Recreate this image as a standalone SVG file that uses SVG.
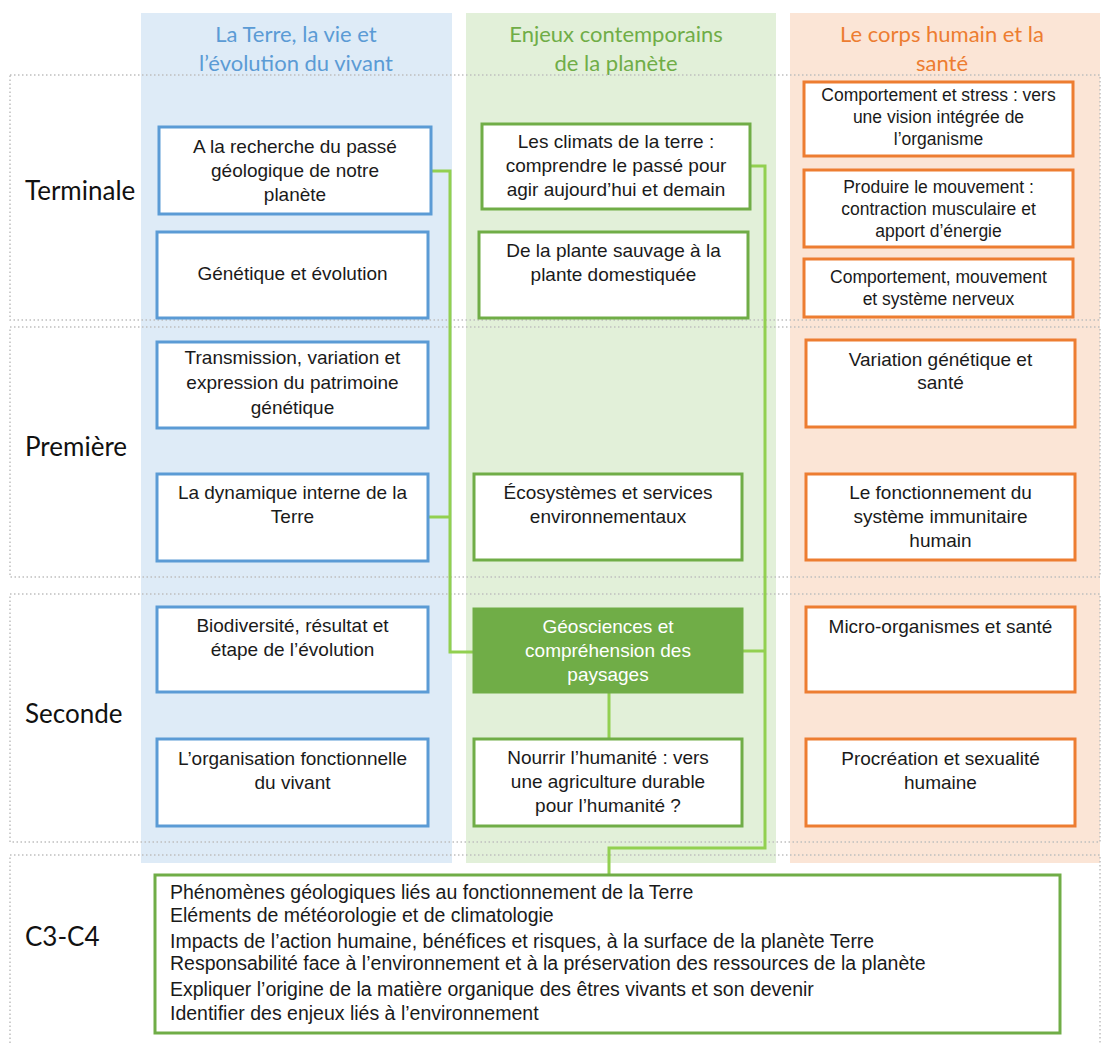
<svg xmlns="http://www.w3.org/2000/svg" width="1103" height="1044" viewBox="0 0 1103 1044">
<style>
.bgB{fill:#deebf7}.bgG{fill:#e2f0d9}.bgO{fill:#fbe5d6}
.row{fill:none;stroke:#bfbfbf;stroke-width:1.5;stroke-dasharray:1.5 2.5}
.hd{font-family:Lato,"Open Sans",sans-serif;font-size:22px;text-anchor:middle}
.rl{font-family:Lato,"Open Sans",sans-serif;font-size:26px;fill:#111}
.nb{fill:#fff;stroke:#5b9bd5;stroke-width:3}
.ng{fill:#fff;stroke:#70ad47;stroke-width:3}
.no{fill:#fff;stroke:#ed7d31;stroke-width:3}
.t{font-family:"Liberation Sans",Arial,sans-serif;font-size:19px;fill:#1a1a1a;text-anchor:middle}
.ts{font-size:17.5px}
.tl{font-family:"Liberation Sans",Arial,sans-serif;font-size:19.5px;fill:#1a1a1a}
.con{fill:none;stroke:#92d050;stroke-width:3}
</style>
<rect width="1103" height="1044" fill="#fff"/>
<g id="columns">
<rect class="bgB" x="141" y="13" width="311" height="850"/>
<rect class="bgG" x="466" y="13" width="310" height="850"/>
<rect class="bgO" x="790" y="13" width="310" height="850"/>
<text class="hd" x="296" y="42" fill="#5b9bd5">La Terre, la vie et</text>
<text class="hd" x="296" y="71" fill="#5b9bd5">l’évolution du vivant</text>
<text class="hd" x="616" y="42" fill="#70ad47">Enjeux contemporains</text>
<text class="hd" x="616" y="71" fill="#70ad47">de la planète</text>
<text class="hd" x="942" y="42" fill="#ed7d31">Le corps humain et la</text>
<text class="hd" x="942" y="71" fill="#ed7d31">santé</text>
</g>
<g id="rows">
<rect class="row" x="10" y="75" width="1090" height="245"/>
<rect class="row" x="10" y="327" width="1090" height="250"/>
<rect class="row" x="10" y="594" width="1090" height="248"/>
<rect class="row" x="10" y="855" width="1090" height="200"/>
<text class="rl" x="25" y="200">Terminale</text>
<text class="rl" x="25" y="456">Première</text>
<text class="rl" x="25" y="723">Seconde</text>
<text class="rl" x="25" y="946">C3-C4</text>
</g>
<g id="connectors">
<path class="con" d="M431,171 H450 V652 H474"/>
<path class="con" d="M428,517 H450"/>
<path class="con" d="M750,166 H765 V848 H609 V875"/>
<path class="con" d="M742,651 H765"/>
<path class="con" d="M609,692 V739"/>
</g>
<g id="n-passe"><rect class="nb" x="159" y="127" width="272" height="87"/><text class="t" x="295" y="153">A la recherche du passé</text><text class="t" x="295" y="177">géologique de notre</text><text class="t" x="295" y="201">planète</text></g>
<g id="n-genetique"><rect class="nb" x="157" y="232" width="271" height="86"/><text class="t" x="292.5" y="280">Génétique et évolution</text></g>
<g id="n-transmission"><rect class="nb" x="157" y="342" width="271" height="86"/><text class="t" x="292.5" y="364">Transmission, variation et</text><text class="t" x="292.5" y="389">expression du patrimoine</text><text class="t" x="292.5" y="414">génétique</text></g>
<g id="n-dynamique"><rect class="nb" x="157" y="474" width="271" height="87"/><text class="t" x="292.5" y="499">La dynamique interne de la</text><text class="t" x="292.5" y="523">Terre</text></g>
<g id="n-biodiversite"><rect class="nb" x="157" y="607" width="271" height="85"/><text class="t" x="292.5" y="632">Biodiversité, résultat et</text><text class="t" x="292.5" y="656">étape de l’évolution</text></g>
<g id="n-organisation"><rect class="nb" x="157" y="739" width="271" height="87"/><text class="t" x="292.5" y="765">L’organisation fonctionnelle</text><text class="t" x="292.5" y="789">du vivant</text></g>
<g id="n-climats"><rect class="ng" x="482" y="124" width="268" height="85"/><text class="t" x="616" y="148">Les climats de la terre :</text><text class="t" x="616" y="172">comprendre le passé pour</text><text class="t" x="616" y="196">agir aujourd’hui et demain</text></g>
<g id="n-plante"><rect class="ng" x="479" y="232" width="269" height="86"/><text class="t" x="613.5" y="257">De la plante sauvage à la</text><text class="t" x="613.5" y="281">plante domestiquée</text></g>
<g id="n-ecosystemes"><rect class="ng" x="474" y="474" width="268" height="86"/><text class="t" x="608" y="499">Écosystèmes et services</text><text class="t" x="608" y="523">environnementaux</text></g>
<g id="n-geosciences"><rect x="474" y="609" width="268" height="83" fill="#70ad47" stroke="#70ad47" stroke-width="3"/><text class="t" x="608" y="633" style="fill:#fff">Géosciences et</text><text class="t" x="608" y="657" style="fill:#fff">compréhension des</text><text class="t" x="608" y="681" style="fill:#fff">paysages</text></g>
<g id="n-nourrir"><rect class="ng" x="474" y="739" width="268" height="87"/><text class="t" x="608" y="764">Nourrir l’humanité : vers</text><text class="t" x="608" y="788">une agriculture durable</text><text class="t" x="608" y="812">pour l’humanité ?</text></g>
<g id="n-stress"><rect class="no" x="804" y="82" width="269" height="74"/><text class="t ts" x="938.5" y="101">Comportement et stress : vers</text><text class="t ts" x="938.5" y="123">une vision intégrée de</text><text class="t ts" x="938.5" y="145">l’organisme</text></g>
<g id="n-mouvement"><rect class="no" x="804" y="170" width="269" height="77"/><text class="t ts" x="938.5" y="193">Produire le mouvement :</text><text class="t ts" x="938.5" y="215">contraction musculaire et</text><text class="t ts" x="938.5" y="237">apport d’énergie</text></g>
<g id="n-nerveux"><rect class="no" x="804" y="259" width="269" height="58"/><text class="t ts" x="938.5" y="283">Comportement, mouvement</text><text class="t ts" x="938.5" y="305">et système nerveux</text></g>
<g id="n-variation"><rect class="no" x="806" y="340" width="269" height="87"/><text class="t" x="940.5" y="366">Variation génétique et</text><text class="t" x="940.5" y="389">santé</text></g>
<g id="n-immunitaire"><rect class="no" x="806" y="474" width="269" height="86"/><text class="t" x="940.5" y="499">Le fonctionnement du</text><text class="t" x="940.5" y="523">système immunitaire</text><text class="t" x="940.5" y="547">humain</text></g>
<g id="n-micro"><rect class="no" x="806" y="607" width="269" height="85"/><text class="t" x="940.5" y="633">Micro-organismes et santé</text></g>
<g id="n-procreation"><rect class="no" x="806" y="739" width="269" height="87"/><text class="t" x="940.5" y="765">Procréation et sexualité</text><text class="t" x="940.5" y="789">humaine</text></g>
<g id="n-c3c4"><rect class="ng" x="155" y="875" width="905" height="158"/>
<text class="tl" x="170" y="899">Phénomènes géologiques liés au fonctionnement de la Terre</text>
<text class="tl" x="170" y="922">Eléments de météorologie et de climatologie</text>
<text class="tl" x="170" y="948">Impacts de l’action humaine, bénéfices et risques, à la surface de la planète Terre</text>
<text class="tl" x="170" y="970">Responsabilité face à l’environnement et à la préservation des ressources de la planète</text>
<text class="tl" x="170" y="996">Expliquer l’origine de la matière organique des êtres vivants et son devenir</text>
<text class="tl" x="170" y="1020">Identifier des enjeux liés à l’environnement</text>
</g>
</svg>
